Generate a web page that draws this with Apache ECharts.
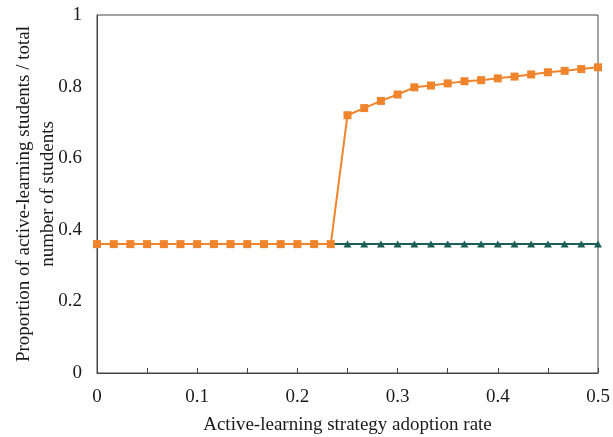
<!DOCTYPE html>
<html>
<head>
<meta charset="utf-8">
<script src="https://cdn.jsdelivr.net/npm/echarts@6/dist/echarts.min.js"></script>
<style>html,body{margin:0;padding:0;background:#fff;}#c{width:613px;height:437px;}</style>
</head>
<body>
<div id="c"></div>
<script>
var adoptionRates = [0, 0.0167, 0.0333, 0.05, 0.0667, 0.0833, 0.1, 0.1167, 0.1333, 0.15, 0.1667, 0.1833, 0.2, 0.2167, 0.2333, 0.25, 0.2667, 0.2833, 0.3, 0.3167, 0.3333, 0.35, 0.3667, 0.3833, 0.4, 0.4167, 0.4333, 0.45, 0.4667, 0.4833, 0.5];
var orangeValues = [0.36, 0.36, 0.36, 0.36, 0.36, 0.36, 0.36, 0.36, 0.36, 0.36, 0.36, 0.36, 0.36, 0.36, 0.36, 0.72, 0.74, 0.76, 0.778, 0.798, 0.803, 0.809, 0.815, 0.818, 0.823, 0.828, 0.834, 0.840, 0.844, 0.849, 0.854];
var greenValues = [0.36, 0.36, 0.36, 0.36, 0.36, 0.36, 0.36, 0.36, 0.36, 0.36, 0.36, 0.36, 0.36, 0.36, 0.36, 0.36, 0.36, 0.36, 0.36, 0.36, 0.36, 0.36, 0.36, 0.36, 0.36, 0.36, 0.36, 0.36, 0.36, 0.36, 0.36];
var xTickLabels = ['0', '0.1', '0.2', '0.3', '0.4', '0.5'];
var yTickLabels = ['0', '0.2', '0.4', '0.6', '0.8', '1'];

function pairs(xs, ys) { return xs.map(function (x, i) { return [x, ys[i]]; }); }

var font = 'Liberation Serif';
var txt = '#1a1a1a';
var chart = echarts.init(document.getElementById('c'), null, {renderer: 'canvas'});
chart.setOption({
  animation: false,
  backgroundColor: '#fff',
  grid: {left: 97, right: 15, top: 15, bottom: 64, containLabel: false, outerBoundsMode: 'none', show: true, borderColor: '#444', borderWidth: 1, backgroundColor: 'transparent'},
  xAxis: {
    type: 'value', min: 0, max: 0.5, interval: 0.05,
    name: 'Active-learning strategy adoption rate', nameLocation: 'middle', nameGap: 43, nameMoveOverlap: false,
    nameTextStyle: {fontFamily: font, fontSize: 19, color: txt},
    axisLine: {show: true, lineStyle: {color: '#444', width: 1}},
    axisTick: {show: true, inside: true, length: 5, lineStyle: {color: '#444'}},
    splitLine: {show: false},
    axisLabel: {
      fontFamily: font, fontSize: 19, color: txt, margin: 15,
      formatter: function (v) {
        var k = Math.round(v * 10);
        if (Math.abs(v * 10 - k) > 1e-6) return '';
        return xTickLabels[k] || '';
      }
    }
  },
  yAxis: {
    type: 'value', min: 0, max: 1, interval: 0.2,
    name: 'Proportion of active-learning students / total\nnumber of students', nameLocation: 'middle', nameGap: 37, nameRotate: 90, nameMoveOverlap: false,
    nameTextStyle: {fontFamily: font, fontSize: 19, color: txt, lineHeight: 24, align: 'center'},
    axisLine: {show: true, lineStyle: {color: '#444', width: 1}},
    axisTick: {show: false},
    splitLine: {show: false},
    axisLabel: {
      fontFamily: font, fontSize: 19, color: txt, margin: 15,
      formatter: function (v) { return yTickLabels[Math.round(v * 5)]; }
    }
  },
  series: [
    {
      type: 'line', data: pairs(adoptionRates, greenValues),
      symbol: 'triangle', symbolSize: [8, 7], showAllSymbol: true,
      lineStyle: {color: '#1B5E55', width: 2}, itemStyle: {color: '#1B5E55'}, z: 2
    },
    {
      type: 'line', data: pairs(adoptionRates, orangeValues),
      symbol: 'rect', symbolSize: 8, showAllSymbol: true,
      lineStyle: {color: '#F0842C', width: 2}, itemStyle: {color: '#F0842C'}, z: 3
    }
  ]
});
</script>
</body>
</html>
